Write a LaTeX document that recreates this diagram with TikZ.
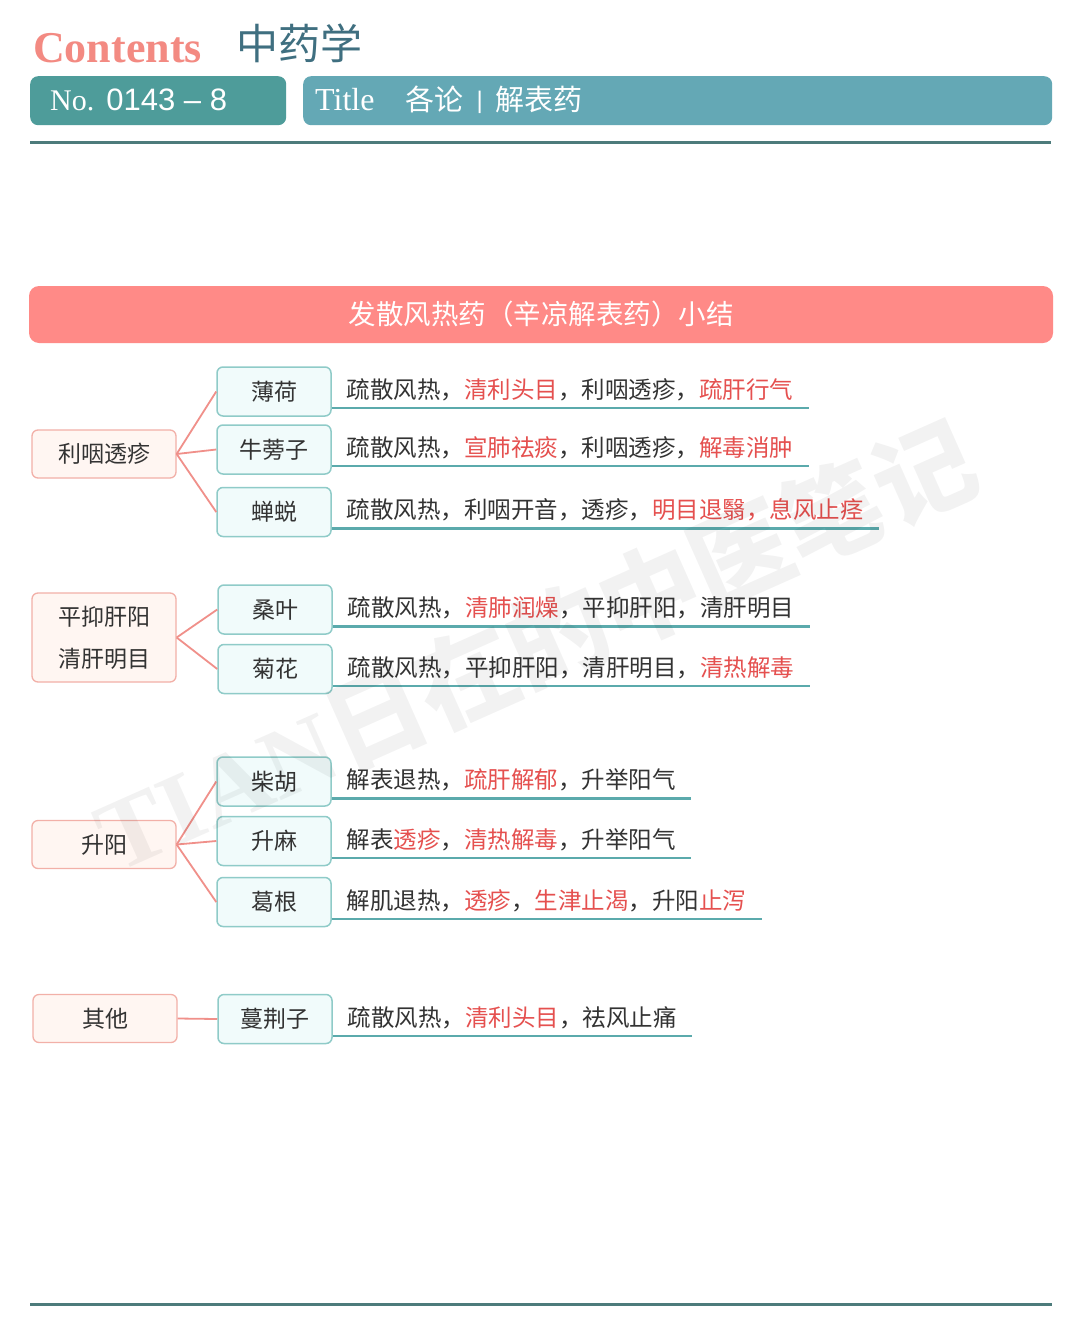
\documentclass[tikz,border=0pt]{standalone}
\usepackage{fontspec}
\setmainfont{Liberation Serif}
\setsansfont{Liberation Sans}
\newfontfamily\cjk{Noto Sans CJK SC}
\usetikzlibrary{positioning,calc}
\definecolor{hdpink}{HTML}{F38A82}
\definecolor{hdteal}{HTML}{3F6F80}
\definecolor{noboxfill}{HTML}{4E9C9A}
\definecolor{titlefill}{HTML}{64A8B5}
\definecolor{rulegrey}{HTML}{4D7B7B}
\definecolor{bannerpink}{HTML}{FF8A87}
\definecolor{rootfill}{HTML}{FFF6F2}
\definecolor{rootdraw}{HTML}{F2B0A8}
\definecolor{herbfill}{HTML}{F1FBFB}
\definecolor{herbdraw}{HTML}{8FCBC8}
\definecolor{linkpink}{HTML}{F0908A}
\definecolor{ulteal}{HTML}{5BAAAC}
\definecolor{tcmred}{HTML}{E5504F}
\definecolor{tcmtext}{HTML}{333333}
\newcommand{\hl}[1]{\textcolor{tcmred}{#1}}
\tikzset{
  hdbox/.style={rounded corners=8pt, inner sep=0pt, minimum height=49pt,
                anchor=north west},
  rootbox/.style={rounded corners=6pt, draw=rootdraw, fill=rootfill,
                  line width=1.3pt, minimum width=144pt, minimum height=48pt,
                  align=center, text=tcmtext, font=\cjk\fontsize{23}{42}\selectfont},
  herb/.style={rounded corners=6pt, draw=herbdraw, fill=herbfill,
               line width=1.5pt, minimum width=114pt, minimum height=49pt,
               text=tcmtext, font=\cjk\fontsize{23}{28}\selectfont},
  desc/.style={anchor=south west, inner xsep=15pt, inner ysep=9.5pt,
               text height=17pt, text depth=0pt, text=tcmtext,
               font=\cjk\fontsize{23.5}{28}\selectfont},
  link/.style={draw=linkpink, line width=1.8pt},
  uline/.style={draw=ulteal, line width=2.5pt},
  hrule/.style={draw=rulegrey, line width=3pt},
}

\begin{document}
\begin{tikzpicture}[x=1pt, y=-1pt]
  \useasboundingbox[fill=white] (0,0) rectangle (1080,1341);

  % --- header ---
  \node[anchor=base west, inner sep=0pt, text=hdpink,
        font=\bfseries\fontsize{44}{50}\selectfont] (cont) at (33,62) {Contents};
  \node[anchor=base west, inner sep=0pt, text=hdteal,
        font=\cjk\fontsize{42}{50}\selectfont] (subj) at (236,59) {中药学};
  \node[hdbox, fill=noboxfill, minimum width=256pt] (nobox) at (30,76) {};
  \node[hdbox, fill=titlefill, minimum width=749pt] (titlebox) at (303,76) {};
  \node[anchor=base west, inner sep=0pt, text=white, font=\fontsize{30}{34}\selectfont]
    (noid) at ($(nobox.west)+(20,10)$) {No.\hspace{12pt}{\sffamily\fontsize{31}{34}\selectfont 0143 – 8}};
  \node[anchor=base west, inner sep=0pt, text=white, font=\fontsize{32}{34}\selectfont]
    (ttl) at ($(titlebox.west)+(12,10)$)
    {Title\hspace{31pt}{\cjk\fontsize{29}{34}\selectfont 各论\hspace{13pt}\raisebox{2pt}{\sffamily\fontsize{24}{24}\selectfont |}\hspace{13pt}解表药}};
  \draw[hrule] (30,142) -- (1051,142);

  % --- banner ---
  \node[rounded corners=10pt, fill=bannerpink, minimum width=1024pt, minimum height=57pt,
        text=white, font=\cjk\fontsize{27.5}{30}\selectfont] (banner) at (541,314.5)
    {发散风热药（辛凉解表药）小结};

  % --- group 1 ---
  \node[rootbox] (lyt) at (104,454) {利咽透疹};
  \node[herb] (bohe)    at (274,391.5) {薄荷};
  \node[herb] (niubang) at (274,449.5) {牛蒡子};
  \node[herb] (chantui) at (274,512)   {蝉蜕};
  \node[desc] (dbohe) at ($(bohe.east)+(0,16.5)$)
    {疏散风热，\hl{清利头目}，利咽透疹，\hl{疏肝行气}};
  \node[desc] (dniubang) at ($(niubang.east)+(0,16.5)$)
    {疏散风热，\hl{宣肺祛痰}，利咽透疹，\hl{解毒消肿}};
  \node[desc] (dchantui) at ($(chantui.east)+(0,16.5)$)
    {疏散风热，利咽开音，透疹，\hl{明目退翳，息风止痉}};

  % --- group 2 ---
  \node[rootbox, minimum height=89pt] (pgy) at (104,637.5) {平抑肝阳\\清肝明目};
  \node[herb] (sangye) at (275,609.5) {桑叶};
  \node[herb] (juhua)  at (275,669)   {菊花};
  \node[desc] (dsangye) at ($(sangye.east)+(0,17)$)
    {疏散风热，\hl{清肺润燥}，平抑肝阳，清肝明目};
  \node[desc] (djuhua) at ($(juhua.east)+(0,17)$)
    {疏散风热，平抑肝阳，清肝明目，\hl{清热解毒}};

  % --- group 3 ---
  \node[rootbox] (sy) at (104,844.5) {升阳};
  \node[herb] (chaihu) at (274,781.5) {柴胡};
  \node[herb] (shengma) at (274,841) {升麻};
  \node[herb] (gegen)  at (274,902)   {葛根};
  \node[desc] (dchaihu) at ($(chaihu.east)+(0,17)$)
    {解表退热，\hl{疏肝解郁}，升举阳气};
  \node[desc] (dshengma) at ($(shengma.east)+(0,17)$)
    {解表\hl{透疹}，\hl{清热解毒}，升举阳气};
  \node[desc] (dgegen) at ($(gegen.east)+(0,17)$)
    {解肌退热，\hl{透疹}，\hl{生津止渴}，升阳\hl{止泻}};

  % --- group 4 ---
  \node[rootbox] (qt) at (105,1018.5) {其他};
  \node[herb] (manjing) at (275,1019) {蔓荆子};
  \node[desc] (dmanjing) at ($(manjing.east)+(0,17)$)
    {疏散风热，\hl{清利头目}，祛风止痛};

  % --- connectors ---
  \foreach \r/\h in {lyt/bohe, lyt/niubang, lyt/chantui, pgy/sangye, pgy/juhua,
                     sy/chaihu, sy/shengma, sy/gegen, qt/manjing}
    \draw[link] (\r.east) -- (\h.west);
  \foreach \d in {dbohe, dniubang, dchantui, dsangye, djuhua,
                  dchaihu, dshengma, dgegen, dmanjing}
    \draw[uline] (\d.south west) -- (\d.south east);

  \draw[hrule] (30,1304) -- (1052,1304);

  % --- watermark ---
  \node[rotate=24, opacity=0.05, text=black, inner sep=0pt,
        font=\bfseries\fontsize{100}{100}\selectfont] (wmark) at (535,645)
    {TIAN{\cjk 日在的中医笔记}};
\end{tikzpicture}
\end{document}
